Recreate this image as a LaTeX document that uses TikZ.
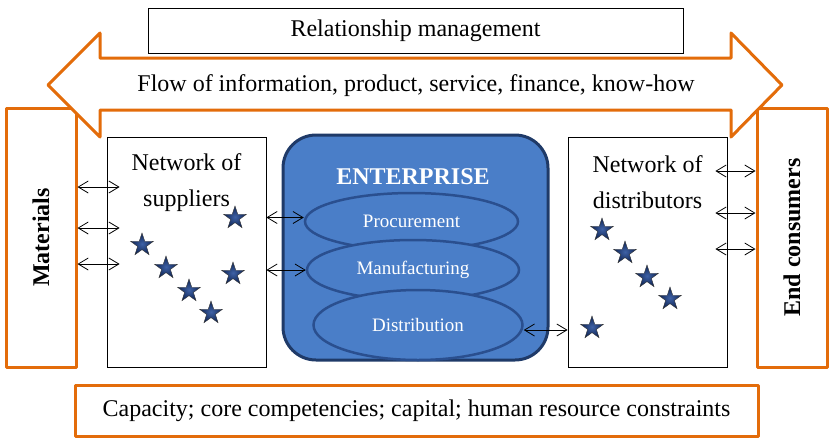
\documentclass[tikz,border=0pt]{standalone}
\usepackage{fontspec}
\setmainfont{Liberation Serif}
\usetikzlibrary{arrows.meta,positioning,calc,shapes.geometric}
\definecolor{edge}{HTML}{E36C0A}
\definecolor{entfill}{HTML}{4A7EC8}
\definecolor{entline}{HTML}{1F3A68}
\definecolor{elline}{HTML}{2A4F8F}
\definecolor{stardark}{HTML}{0E2352}
\definecolor{starlight}{HTML}{3F62A6}

\begin{document}
\begin{tikzpicture}[
    x=1pt, y=-1pt,
    font=\fontsize{24}{36}\selectfont,
    box/.style={
        draw, line width=0.8pt, inner sep=0pt, align=center
    },
    sidebox/.style={
        draw=edge, line width=3pt, line join=round, fill=white,
        minimum width=70pt, minimum height=259pt, inner sep=0pt
    },
    net/.style={
        box, minimum width=159pt, minimum height=230pt
    },
    stage/.style={
        ellipse, draw=elline, line width=2.5pt, fill=entfill,
        text=white, inner sep=0pt,
        font=\fontsize{19}{22}\selectfont
    },
    starmark/.style={
        star, star points=5, star point ratio=2.6,
        minimum size=24pt, inner sep=0pt, draw=black!80, line width=0.4pt,
        inner color=starlight, outer color=stardark
    },
    link/.style={
        {Straight Barb[length=10pt,width=12pt]}-{Straight Barb[length=10pt,width=12pt]},
        line width=0.8pt
    }
]
\useasboundingbox (0,0) rectangle (832,440);

% --- side boxes (drawn first, the flow arrow overlaps their corners) ---
\node[sidebox, label={[rotate=90, font=\fontsize{24}{28}\selectfont\bfseries]center:Materials}]
    (mat) at (41,237.5) {};
\node[sidebox, label={[rotate=90, font=\fontsize{24}{28}\selectfont\bfseries]center:End consumers}]
    (cons) at (792,237.5) {};

% --- relationship management on top ---
\node[box, minimum width=535pt, minimum height=45pt] (rel) at (415.5,30.5) {Relationship management};

% --- double flow arrow ---
\draw[draw=edge, line width=3pt, line join=round, fill=white]
    (48,85) -- (100,33) -- (100,58) -- (731,58) -- (731,33) -- (782,85)
    -- (731,137) -- (731,110) -- (100,110) -- (100,137) -- cycle;
\node (flow) at (416,86) {Flow of information, product, service, finance, know-how};

% --- networks ---
\node[net] (sup) at (186.5,252) {};
\node[net] (distr) at (647.5,252) {};
\node[align=center] (suplbl) at ([yshift=-46pt]sup.north) {Network of\\suppliers};
\node[align=center] (distrlbl) at ([yshift=-46pt]distr.north) {Network of\\distributors};

% --- enterprise with its three stages ---
\node[draw=entline, line width=3pt, fill=entfill, rounded corners=33pt,
      minimum width=265pt, minimum height=225pt] (ent) at (415.5,247.5) {};
\node[text=white, font=\fontsize{24}{28}\selectfont\bfseries] (entlbl) at (413,177) {ENTERPRISE};
\node[stage, minimum width=213pt, minimum height=57pt] (proc) at (411.5,221.5) {Procurement};
\node[stage, minimum width=212pt, minimum height=60pt] (manu) at (413,270) {Manufacturing};
\node[stage, minimum width=209pt, minimum height=70pt] (dist) at (418,325) {Distribution};

% --- stars ---
\foreach \sx/\sy [count=\i] in {235/218, 142/245, 166/268, 189/291, 211/313, 233/274,
                                602/230, 625/253, 647/277, 670/299, 592/328}
    \node[starmark] (st\i) at (\sx,\sy) {};

% --- links ---
\foreach \ly in {187,228,264}
    \draw[link, shorten >=-13pt] (mat.east |- 0,\ly) -- (sup.west |- 0,\ly);
\draw[link] ([yshift=4pt]sup.east |- proc.west) -- ([yshift=4pt]proc.west);
\draw[link] (sup.east |- manu.west) -- (manu.west);
\draw[link] ([yshift=-5pt]dist.east) -- ([yshift=-5pt]distr.west |- dist.east);
\foreach \ly in {171,213,249}
    \draw[link, shorten <=-12pt] (distr.east |- 0,\ly) -- (cons.west |- 0,\ly);

% --- constraints at the bottom ---
\node[draw=edge, line width=3pt, line join=round, minimum width=683pt, minimum height=51pt,
      inner sep=0pt] (cap) at (416.5,410.5) {Capacity; core competencies; capital; human resource constraints};

\end{tikzpicture}
\end{document}
